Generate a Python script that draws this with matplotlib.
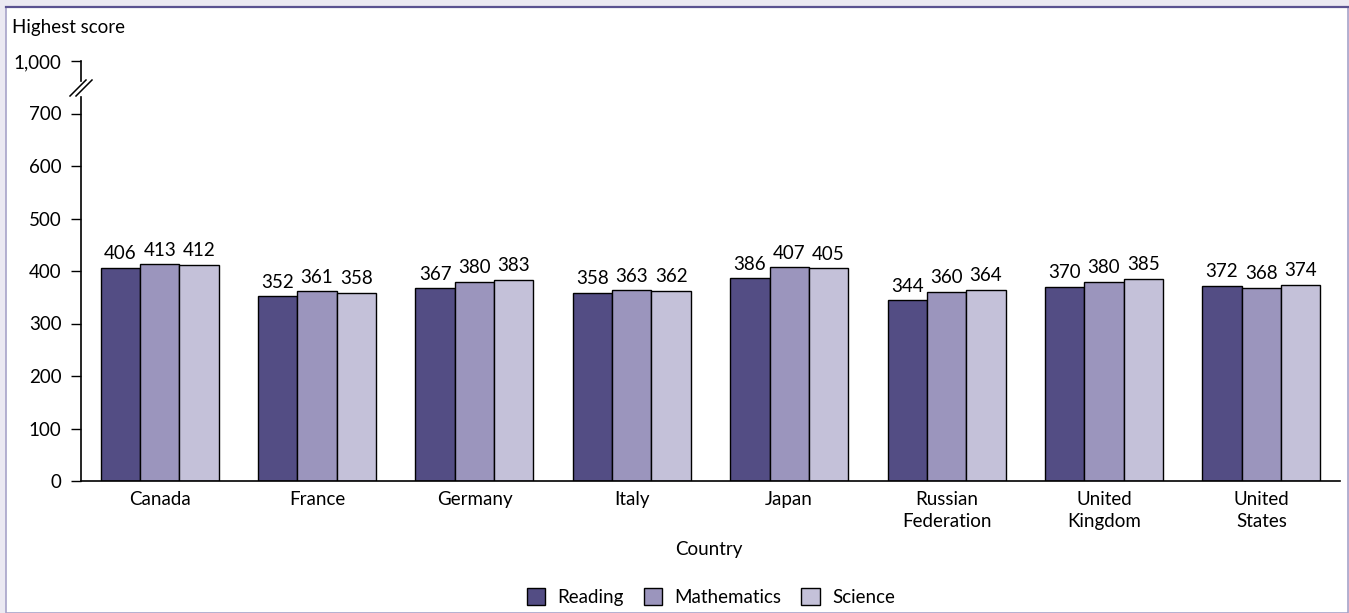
import numpy as np
import matplotlib.pyplot as plt
from matplotlib.patches import Rectangle, Patch
from matplotlib.lines import Line2D

countries = ["Canada", "France", "Germany", "Italy", "Japan",
             "Russian\nFederation", "United\nKingdom", "United\nStates"]
reading = [406, 352, 367, 358, 386, 344, 370, 372]
mathematics = [413, 361, 380, 363, 407, 360, 380, 368]
science = [412, 358, 383, 362, 405, 364, 385, 374]

series = [("Reading", reading, "#534d84"),
          ("Mathematics", mathematics, "#9b95bd"),
          ("Science", science, "#c4c1d9")]

# y axis is broken between 700 and 1,000: 1,000 is drawn where 800 would be
ytick_vals = [0, 100, 200, 300, 400, 500, 600, 700, 800]
ytick_labels = ["0", "100", "200", "300", "400", "500", "600", "700", "1,000"]

FS = 13.5
plt.rcParams['font.family'] = ['Lato', 'DejaVu Sans']
plt.rcParams['font.size'] = FS

W, H = 1349, 613
fig = plt.figure(figsize=(W / 100, H / 100), dpi=100, facecolor="#ebe9f2")

# white panel with frame
fig.patches.append(Rectangle((6 / W, 0), 1 - 6 / W - 1 / W, 1 - 7 / H,
                             transform=fig.transFigure, facecolor="white",
                             edgecolor="#a7a3c8", linewidth=1.2, zorder=-10))
fig.lines.append(Line2D([6 / W, 1 - 1 / W], [1 - 7 / H, 1 - 7 / H],
                        transform=fig.transFigure, color="#5a5290", linewidth=1.6))

ax = fig.add_axes([81 / W, 132 / H, 1259 / W, 420 / H])
ax.set_facecolor("none")

x = np.arange(len(countries))
width = 0.25
for i, (name, vals, color) in enumerate(series):
    pos = x + (i - 1) * width
    bars = ax.bar(pos, vals, width, color=color, edgecolor="black",
                  linewidth=1.0, label=name, zorder=2)
    for b, v in zip(bars, vals):
        ax.annotate(str(v), (b.get_x() + b.get_width() / 2, v),
                    xytext=(0, 4), textcoords="offset points",
                    ha="center", va="bottom", fontsize=FS)

ax.set_xlim(-0.5, len(countries) - 0.5)
ax.set_ylim(0, 800)
ax.set_yticks(ytick_vals)
ax.set_yticklabels(ytick_labels)
ax.set_xticks(x)
ax.set_xticklabels(countries, linespacing=1.35)
ax.tick_params(axis="x", length=0, pad=7, labelsize=FS)
ax.tick_params(axis="y", length=7, width=1, pad=7, labelsize=FS)

for s in ["top", "right", "left"]:
    ax.spines[s].set_visible(False)
ax.spines["bottom"].set_linewidth(1.2)

# left spine with a break between 700 and 1,000
ax.plot([0, 0], [0, 731], color="black", lw=1.2, clip_on=False,
        transform=ax.get_yaxis_transform())
ax.plot([0, 0], [762, 800], color="black", lw=1.2, clip_on=False,
        transform=ax.get_yaxis_transform())
for dx in (0, 6):
    fig.lines.append(Line2D([(70 + dx) / W, (86 + dx) / W],
                            [1 - 96 / H, 1 - 80 / H],
                            transform=fig.transFigure, color="black", lw=1.1))

fig.text(12 / W, 1 - 28 / H, "Highest score", ha="left", va="center", fontsize=FS)
fig.text(ax.get_position().x0 + ax.get_position().width / 2 - 0.001, 1 - 550 / H,
         "Country", ha="center", va="center", fontsize=FS)

handles = [Patch(facecolor=c, edgecolor="black", linewidth=1.0, label=n)
           for n, _, c in series]
fig.legend(handles=handles, loc="center", bbox_to_anchor=(0.527, 1 - 597 / H),
           ncol=3, frameon=False, handlelength=1.0, handleheight=1.0,
           handletextpad=0.65, columnspacing=1.05, fontsize=FS)

fig.savefig("out.png", dpi=100, facecolor=fig.get_facecolor())
